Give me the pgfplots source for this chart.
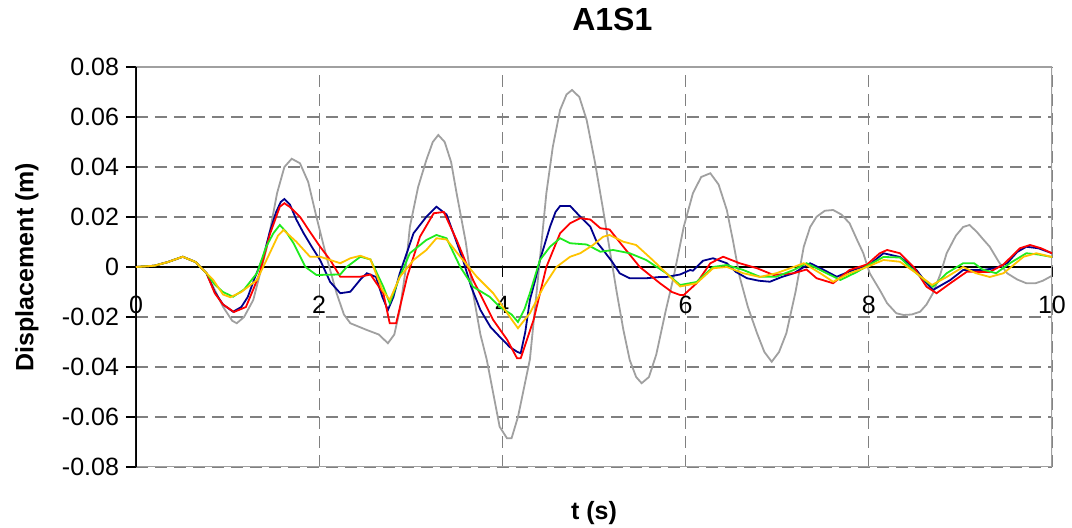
\documentclass[border=0pt]{standalone}
\usepackage{fontspec}
\setmainfont{Liberation Sans}
\usepackage{pgfplots}
\pgfplotsset{compat=1.18}

\definecolor{cgray}{RGB}{160,160,160}
\definecolor{cnavy}{RGB}{0,0,140}
\definecolor{cred}{RGB}{255,0,0}
\definecolor{cgreen}{RGB}{30,235,30}
\definecolor{cyellow}{RGB}{255,195,0}
\definecolor{gridgray}{RGB}{128,128,128}

\begin{document}
\begin{tikzpicture}
\useasboundingbox (-68pt,-30.5pt) rectangle (468pt,233.5pt);
\begin{axis}[
  at={(0,0)}, anchor=south west,
  scale only axis,
  width=458pt, height=200pt,
  xmin=0, xmax=10, ymin=-0.08, ymax=0.08,
  axis x line=middle, axis y line=left,
  axis line style={-},
  x axis line style={black, line width=1pt},
  y axis line style={black, line width=0.7pt},
  hide obscured x ticks=false,
  scaled y ticks=false,
  xtick={0,2,4,6,8,10},
  ytick={-0.08,-0.06,-0.04,-0.02,0,0.02,0.04,0.06,0.08},
  yticklabels={-0.08,-0.06,-0.04,-0.02,0,0.02,0.04,0.06,0.08},
  /pgf/number format/assume math mode=true,
  tick label style={font=\fontsize{12.5}{14}\selectfont},
  xticklabel style={yshift=-6pt},
  tick align=outside,
  major tick length=5pt,
  tick style={black, line width=0.6pt},
  grid=major,
  major grid style={gridgray, line width=0.6pt, dash pattern=on 6pt off 3.5pt},
  title={A1S1},
  title style={font=\bfseries\fontsize{16}{18}\selectfont, at={(axis description cs:0.52,1.09)}, anchor=center},
  xlabel={t (s)},
  xlabel style={font=\bfseries\fontsize{12.5}{14}\selectfont, at={(axis description cs:0.5,-0.115)}, anchor=center},
  ylabel={Displacement (m)},
  ylabel style={font=\bfseries\fontsize{12.5}{14}\selectfont, at={(axis description cs:-0.119,0.5)}, anchor=center},
  every axis plot/.append style={line width=0.9pt},
]
\draw[cgray, line width=0.8pt] (rel axis cs:0,0) rectangle (rel axis cs:1,1);
\draw[black, line width=0.7pt] (rel axis cs:0,0) -- (rel axis cs:0,1);

% gray
\addplot[cgray] coordinates {
(0,0) (0.2,0.0005) (0.35,0.002) (0.51,0.0041) (0.65,0.002) (0.77,-0.0025) (0.95,-0.0159) (1.05,-0.0215) (1.10,-0.0225) (1.18,-0.020) (1.28,-0.0132) (1.43,0.0081) (1.54,0.0295) (1.62,0.040) (1.70,0.0433) (1.79,0.0415) (1.88,0.034) (1.97,0.020) (2.08,0.004) (2.19,-0.0105) (2.27,-0.019) (2.34,-0.0225) (2.52,-0.0252) (2.65,-0.027) (2.75,-0.0305) (2.82,-0.027) (2.88,-0.0172) (2.94,-0.002) (2.99,0.0161) (3.08,0.032) (3.17,0.0428) (3.24,0.050) (3.30,0.0528) (3.37,0.050) (3.44,0.042) (3.50,0.0295) (3.60,0.010) (3.68,-0.0105) (3.76,-0.027) (3.83,-0.0372) (3.97,-0.0639) (4.05,-0.0685) (4.10,-0.0685) (4.17,-0.060) (4.30,-0.037) (4.39,-0.004) (4.48,0.0295) (4.55,0.048) (4.63,0.0628) (4.70,0.069) (4.76,0.0708) (4.84,0.068) (4.92,0.0588) (5.01,0.042) (5.10,0.0228) (5.18,0.005) (5.25,-0.0105) (5.32,-0.025) (5.39,-0.0372) (5.46,-0.044) (5.52,-0.0465) (5.60,-0.044) (5.68,-0.035) (5.78,-0.018) (5.87,-0.0039) (5.98,0.0161) (6.08,0.0295) (6.17,0.036) (6.27,0.0375) (6.36,0.033) (6.45,0.0228) (6.52,0.010) (6.59,-0.0039) (6.68,-0.016) (6.78,-0.0265) (6.86,-0.034) (6.94,-0.0379) (7.02,-0.034) (7.10,-0.0265) (7.20,-0.010) (7.29,0.0081) (7.36,0.016) (7.43,0.0201) (7.52,0.0225) (7.61,0.0228) (7.70,0.021) (7.79,0.0175) (7.87,0.011) (7.94,0.0055) (8.01,-0.0025) (8.12,-0.0092) (8.20,-0.0145) (8.30,-0.0185) (8.38,-0.0192) (8.47,-0.019) (8.56,-0.0179) (8.63,-0.015) (8.70,-0.0105) (8.78,-0.003) (8.85,0.0055) (8.95,0.0125) (9.03,0.016) (9.10,0.0168) (9.18,0.014) (9.25,0.011) (9.32,0.0081) (9.42,0.002) (9.51,-0.0025) (9.62,-0.005) (9.72,-0.0065) (9.82,-0.0065) (9.90,-0.0055) (10,-0.0035)
};

% blue
\addplot[cnavy] coordinates {
(0,0) (0.2,0.0005) (0.35,0.002) (0.51,0.0041) (0.65,0.002) (0.77,-0.0025) (0.86,-0.010) (0.95,-0.015) (1.06,-0.0179) (1.15,-0.016) (1.22,-0.012) (1.30,-0.004) (1.39,0.004) (1.46,0.014) (1.53,0.022) (1.58,0.026) (1.62,0.0272) (1.68,0.025) (1.75,0.019) (1.83,0.0135) (1.92,0.008) (2.01,0.0028) (2.12,-0.006) (2.23,-0.0105) (2.34,-0.0099) (2.45,-0.005) (2.52,-0.0025) (2.62,-0.004) (2.69,-0.012) (2.75,-0.0172) (2.81,-0.012) (2.88,-0.0025) (2.96,0.006) (3.03,0.0135) (3.17,0.0201) (3.28,0.0241) (3.39,0.021) (3.48,0.012) (3.57,0.0028) (3.66,-0.008) (3.76,-0.0172) (3.87,-0.024) (3.97,-0.0279) (4.08,-0.032) (4.16,-0.0339) (4.20,-0.0345) (4.25,-0.026) (4.30,-0.0132) (4.36,-0.005) (4.41,0.0028) (4.52,0.0161) (4.58,0.022) (4.63,0.0244) (4.74,0.0244) (4.85,0.0201) (4.96,0.0161) (5.03,0.010) (5.10,0.0068) (5.20,0.002) (5.28,-0.0025) (5.39,-0.0045) (5.57,-0.0045) (5.72,-0.004) (5.79,-0.004) (5.94,-0.003) (6.05,-0.0012) (6.08,-0.0015) (6.19,0.0025) (6.30,0.0035) (6.45,0.0015) (6.55,-0.002) (6.67,-0.0045) (6.80,-0.0055) (6.92,-0.0059) (7.05,-0.004) (7.18,-0.0025) (7.36,0.0015) (7.50,-0.001) (7.65,-0.0039) (7.83,-0.0012) (8.01,0.001) (8.16,0.0055) (8.34,0.004) (8.52,-0.0012) (8.62,-0.006) (8.70,-0.0092) (8.89,-0.0052) (9.03,-0.0012) (9.24,-0.0012) (9.38,-0.0005) (9.51,0.0015) (9.62,0.006) (9.72,0.0081) (9.85,0.0075) (10,0.0055)
};

% red
\addplot[cred] coordinates {
(0,0) (0.2,0.0005) (0.35,0.002) (0.51,0.0041) (0.65,0.002) (0.77,-0.0025) (0.86,-0.0105) (0.95,-0.015) (1.07,-0.018) (1.20,-0.016) (1.28,-0.009) (1.35,-0.0025) (1.46,0.0129) (1.57,0.0241) (1.62,0.0255) (1.68,0.024) (1.79,0.0201) (1.90,0.014) (2.01,0.0081) (2.12,0.0028) (2.23,-0.0039) (2.45,-0.0039) (2.56,-0.003) (2.70,-0.0105) (2.77,-0.0225) (2.84,-0.0225) (2.96,-0.0039) (3.10,0.0121) (3.25,0.0215) (3.36,0.022) (3.50,0.0108) (3.68,-0.0052) (3.90,-0.0212) (4.05,-0.029) (4.16,-0.0365) (4.20,-0.0365) (4.34,-0.0212) (4.48,0.0) (4.63,0.0135) (4.74,0.0175) (4.85,0.0195) (4.96,0.019) (5.07,0.0155) (5.17,0.015) (5.32,0.0081) (5.50,0.0) (5.72,-0.0065) (5.85,-0.010) (5.94,-0.0112) (5.98,-0.0112) (6.12,-0.0065) (6.27,0.0015) (6.41,0.0041) (6.59,0.0015) (6.78,-0.0005) (6.96,-0.0032) (7.18,-0.0025) (7.32,-0.001) (7.43,-0.0045) (7.61,-0.0065) (7.79,-0.0012) (7.98,0.001) (8.12,0.0055) (8.20,0.0068) (8.34,0.0055) (8.49,0.0) (8.63,-0.0079) (8.74,-0.0105) (8.89,-0.0065) (9.07,-0.0019) (9.32,-0.002) (9.47,0.001) (9.65,0.0075) (9.76,0.0088) (9.88,0.0075) (10,0.0055)
};

% green
\addplot[cgreen] coordinates {
(0,0) (0.2,0.0005) (0.35,0.002) (0.51,0.0041) (0.65,0.002) (0.77,-0.0025) (0.86,-0.007) (0.95,-0.010) (1.06,-0.0119) (1.18,-0.009) (1.32,-0.0025) (1.42,0.008) (1.50,0.0135) (1.57,0.0168) (1.64,0.014) (1.72,0.0095) (1.85,0.0) (1.97,-0.0032) (2.23,-0.003) (2.30,0.0) (2.45,0.0041) (2.56,0.003) (2.70,-0.0079) (2.77,-0.0145) (2.88,-0.0039) (2.99,0.0055) (3.17,0.0108) (3.28,0.0128) (3.39,0.0115) (3.54,0.0) (3.68,-0.0079) (3.86,-0.0119) (3.97,-0.0159) (4.10,-0.019) (4.17,-0.022) (4.24,-0.017) (4.30,-0.0105) (4.41,0.0028) (4.52,0.0081) (4.63,0.0115) (4.74,0.0095) (4.92,0.009) (5.07,0.0061) (5.21,0.0068) (5.39,0.0055) (5.57,0.0028) (5.79,-0.0025) (5.94,-0.0072) (6.12,-0.006) (6.30,0.0) (6.45,0.0008) (6.63,-0.0012) (6.81,-0.0039) (6.99,-0.0039) (7.18,-0.0012) (7.32,0.0015) (7.54,-0.0025) (7.69,-0.0052) (7.87,-0.002) (8.01,0.001) (8.16,0.004) (8.34,0.0038) (8.52,-0.0025) (8.70,-0.0079) (8.85,-0.0025) (9.03,0.0015) (9.15,0.0015) (9.24,-0.001) (9.39,-0.0025) (9.54,0.0015) (9.72,0.0055) (9.85,0.005) (10,0.004)
};

% yellow
\addplot[cyellow] coordinates {
(0,0) (0.2,0.0005) (0.35,0.002) (0.51,0.0041) (0.65,0.002) (0.77,-0.0025) (0.84,-0.005) (0.95,-0.011) (1.03,-0.0121) (1.15,-0.010) (1.32,-0.0052) (1.46,0.0055) (1.55,0.0125) (1.61,0.0148) (1.75,0.0101) (1.90,0.0041) (2.01,0.0041) (2.23,0.0015) (2.34,0.0035) (2.45,0.0045) (2.56,0.003) (2.69,-0.0092) (2.77,-0.0132) (2.88,-0.004) (3.03,0.0028) (3.17,0.0068) (3.28,0.0115) (3.39,0.011) (3.54,0.0041) (3.72,-0.0039) (3.90,-0.0105) (4.08,-0.0199) (4.17,-0.0245) (4.30,-0.0185) (4.45,-0.0079) (4.59,0.0) (4.74,0.0041) (4.85,0.0055) (4.99,0.0088) (5.10,0.0121) (5.17,0.0128) (5.32,0.0101) (5.46,0.0088) (5.64,0.0028) (5.79,-0.0025) (5.94,-0.0078) (6.12,-0.0065) (6.30,-0.0005) (6.45,0.0) (6.63,-0.0025) (6.81,-0.004) (6.99,-0.0025) (7.18,0.0) (7.29,0.0015) (7.47,-0.0025) (7.61,-0.0059) (7.79,-0.0025) (7.98,0.0) (8.16,0.0028) (8.34,0.0021) (8.52,-0.0025) (8.69,-0.0072) (8.85,-0.004) (9.03,0.0) (9.17,-0.0025) (9.32,-0.004) (9.47,-0.0025) (9.69,0.0041) (9.83,0.0055) (10,0.004)
};

\end{axis}
\end{tikzpicture}
\end{document}
